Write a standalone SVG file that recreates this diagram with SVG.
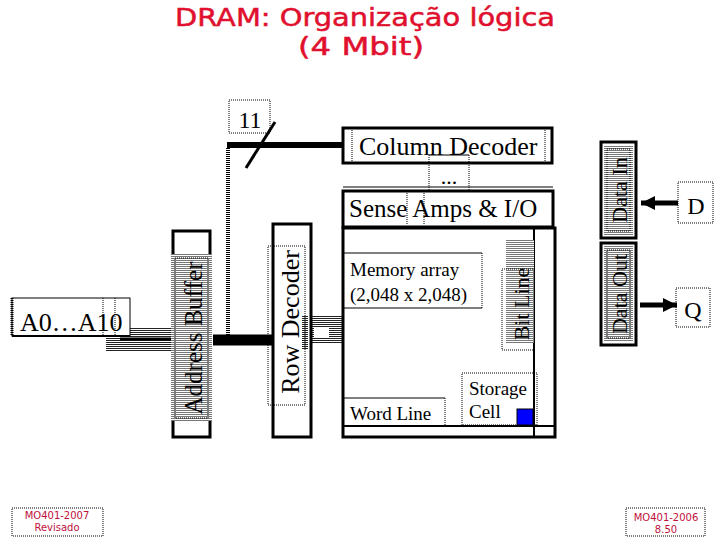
<svg xmlns="http://www.w3.org/2000/svg" width="720" height="540" viewBox="0 0 720 540">
<defs>
<pattern id="hatch" width="4" height="2" patternUnits="userSpaceOnUse">
<rect width="4" height="1" fill="#222"/>
</pattern>
<pattern id="hatchg" width="4" height="2" patternUnits="userSpaceOnUse">
<rect width="4" height="2" fill="#fff"/>
<rect width="4" height="1" fill="#777"/>
</pattern>
<marker id="arr" markerUnits="userSpaceOnUse" markerWidth="16" markerHeight="16" refX="14" refY="8" orient="auto">
<polygon points="0,1 14,8 0,15" fill="#000"/>
</marker>
</defs>
<style>
.box{fill:#fff;stroke:#000;stroke-width:3}
.thin{fill:none;stroke:#000;stroke-width:1}
.dot{fill:none;stroke:#000;stroke-width:1;stroke-dasharray:1 1}
.serif{font-family:"Liberation Serif","Times New Roman",serif;fill:#000}
.title{font-family:"DejaVu Sans","Noto Sans",sans-serif;fill:#e0102e;stroke:#e0102e;stroke-width:0.5;font-size:25px;text-anchor:middle}
.foot{font-family:"DejaVu Sans","Noto Sans",sans-serif;fill:#c0103c;font-size:10px;text-anchor:middle}
</style>
<rect width="720" height="540" fill="#fff"/>

<g id="title">
<text class="title" x="365" y="26" textLength="380" lengthAdjust="spacingAndGlyphs">DRAM: Organização lógica</text>
<text class="title" x="361" y="55" textLength="126" lengthAdjust="spacingAndGlyphs">(4 Mbit)</text>
</g>

<g id="connectors">
<rect x="106" y="328" width="67" height="24" fill="url(#hatch)"/>
<line x1="120" y1="339" x2="171" y2="339" stroke="#000" stroke-width="3"/>
<line x1="213" y1="340" x2="273" y2="340" stroke="#000" stroke-width="11"/>
<line x1="228" y1="148" x2="228" y2="338" stroke="#000" stroke-width="4" stroke-dasharray="1 1"/>
<line x1="227" y1="145" x2="343" y2="145" stroke="#000" stroke-width="6"/>
<line x1="246" y1="168" x2="275" y2="122" stroke="#000" stroke-width="3"/>
<rect x="311" y="316" width="32" height="27" fill="url(#hatch)"/>
<rect x="314" y="327" width="15" height="11" fill="#fff"/>
<line x1="678" y1="203" x2="641" y2="203" stroke="#000" stroke-width="5" marker-end="url(#arr)"/>
<line x1="640" y1="305" x2="677" y2="305" stroke="#000" stroke-width="5" marker-end="url(#arr)"/>
</g>

<g id="width-label">
<rect class="dot" x="229" y="100" width="41" height="33"/>
<text class="serif" x="250" y="128" font-size="24" text-anchor="middle">11</text>
</g>

<g id="address-input">
<rect x="12" y="298" width="118" height="38" fill="#fff" stroke="#000" stroke-width="1"/>
<line x1="12" y1="298" x2="12" y2="336" stroke="#000" stroke-width="3" stroke-dasharray="1 1"/>
<line x1="12" y1="336" x2="130" y2="336" stroke="#000" stroke-width="2"/>
<line x1="103" y1="298" x2="103" y2="336" class="dot"/>
<line x1="115" y1="298" x2="115" y2="336" class="dot"/>
<text class="serif" x="20" y="331" font-size="26">A0…A10</text>
</g>

<g id="address-buffer">
<rect class="box" x="173" y="231" width="37" height="206"/>
<rect x="171" y="254" width="41" height="167" fill="url(#hatchg)"/>
<rect class="dot" x="175" y="258" width="33" height="160"/>
<text class="serif" font-size="25" text-anchor="middle" transform="translate(202,338) rotate(-90)">Address Buffer</text>
</g>

<g id="row-decoder">
<rect class="box" x="273" y="224" width="38" height="213"/>
<rect class="dot" x="268" y="246" width="37" height="159" fill="#fff"/>
<rect x="302" y="316" width="6" height="34" fill="url(#hatch)"/>
<text class="serif" font-size="26" text-anchor="middle" transform="translate(299,322) rotate(-90)">Row Decoder</text>
</g>

<g id="column-decoder">
<rect class="box" x="343" y="128" width="209" height="35"/>
<line x1="352" y1="130" x2="352" y2="161" class="dot"/>
<line x1="545" y1="130" x2="545" y2="161" class="dot"/>
<text class="serif" x="359" y="155" font-size="26">Column Decoder</text>
</g>

<g id="mux-dots">
<line x1="429" y1="155" x2="469" y2="155" stroke="#000" stroke-width="1"/>
<line x1="429" y1="155" x2="429" y2="190" class="dot"/>
<line x1="469" y1="155" x2="469" y2="190" class="dot"/>
<text class="serif" x="449" y="184" font-size="22" text-anchor="middle">...</text>
</g>

<g id="sense-amps">
<line x1="343" y1="187" x2="553" y2="187" stroke="#000" stroke-width="1"/>
<rect class="box" x="343" y="191" width="210" height="36"/>
<line x1="407" y1="193" x2="407" y2="225" class="dot"/>
<line x1="424" y1="193" x2="424" y2="225" class="dot"/>
<text class="serif" x="349" y="217" font-size="25">Sense Amps &amp; I/O</text>
</g>

<g id="memory-array">
<rect class="box" x="343" y="228" width="212" height="209"/>
<line x1="534" y1="228" x2="534" y2="437" stroke="#000" stroke-width="2"/>
<line x1="343" y1="426" x2="555" y2="426" stroke="#000" stroke-width="2"/>
<line x1="343" y1="253" x2="482" y2="253" stroke="#000" stroke-width="1"/>
<line x1="343" y1="308" x2="482" y2="308" stroke="#000" stroke-width="1"/>
<line x1="482" y1="253" x2="482" y2="308" class="dot"/>
<text class="serif" x="350" y="276" font-size="19">Memory array</text>
<text class="serif" x="350" y="301" font-size="19">(2,048 x 2,048)</text>
</g>

<g id="bit-line">
<rect x="506" y="240" width="28" height="103" fill="url(#hatchg)"/>
<rect class="dot" x="502" y="269" width="32" height="81"/>
<text class="serif" font-size="22" text-anchor="middle" transform="translate(529,304) rotate(-90)">Bit Line</text>
</g>

<g id="word-line">
<line x1="343" y1="398" x2="445" y2="398" stroke="#000" stroke-width="1"/>
<line x1="445" y1="398" x2="445" y2="426" class="dot"/>
<text class="serif" x="350" y="420" font-size="19">Word Line</text>
</g>

<g id="storage-cell">
<rect class="dot" x="462" y="373" width="75" height="52"/>
<text class="serif" x="469" y="395" font-size="19">Storage</text>
<text class="serif" x="469" y="418" font-size="19">Cell</text>
<rect x="517" y="409" width="16" height="16" fill="#0000ff" stroke="#000" stroke-width="1"/>
</g>

<g id="data-in">
<rect class="box" x="601" y="142" width="35" height="96"/>
<rect x="604" y="145" width="29" height="90" fill="url(#hatchg)"/>
<rect class="dot" x="607" y="149" width="23" height="82" fill="#fff"/>
<text class="serif" font-size="22" text-anchor="middle" transform="translate(627,190) rotate(-90)">Data In</text>
</g>

<g id="data-out">
<rect class="box" x="601" y="243" width="35" height="102"/>
<rect x="604" y="246" width="29" height="96" fill="url(#hatchg)"/>
<rect class="dot" x="607" y="250" width="23" height="88" fill="#fff"/>
<text class="serif" font-size="22" text-anchor="middle" transform="translate(627,294) rotate(-90)">Data Out</text>
</g>

<g id="d-pin">
<rect class="dot" x="678" y="182" width="35" height="41" fill="#fff"/>
<text class="serif" x="696" y="214" font-size="24" text-anchor="middle">D</text>
</g>

<g id="q-pin">
<rect class="dot" x="676" y="288" width="34" height="39" fill="#fff"/>
<text class="serif" x="693" y="318" font-size="24" text-anchor="middle">Q</text>
</g>

<g id="footer-left">
<rect class="dot" x="12" y="508" width="91" height="28"/>
<text class="foot" x="57" y="519">MO401-2007</text>
<text class="foot" x="57" y="531">Revisado</text>
</g>

<g id="footer-right">
<rect class="dot" x="626" y="508" width="79" height="28"/>
<text class="foot" x="666" y="521">MO401-2006</text>
<text class="foot" x="666" y="533">8.50</text>
</g>
</svg>
